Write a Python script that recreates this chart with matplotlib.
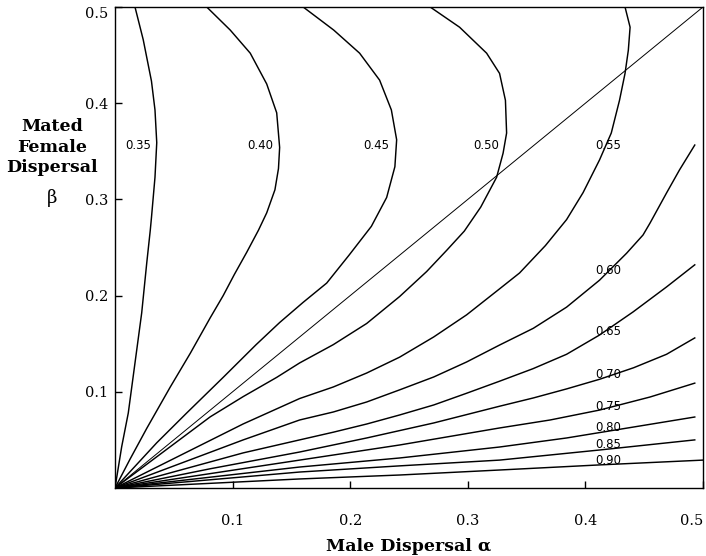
import matplotlib
matplotlib.use("Agg")
import matplotlib.pyplot as plt

# contour levels and their traced points (male dispersal alpha, female dispersal beta)
levels = ["0.35", "0.40", "0.45", "0.50", "0.55", "0.60", "0.65", "0.70", "0.75", "0.80", "0.85", "0.90"]

x_035 = [0.017, 0.024, 0.031, 0.034, 0.0355, 0.034, 0.031, 0.030, 0.027, 0.0227, 0.017, 0.0113, 0.0057, 0.0]
y_035 = [0.500, 0.466, 0.423, 0.393, 0.359, 0.323, 0.281, 0.268, 0.234, 0.182, 0.130, 0.078, 0.043, 0.0]

x_040 = [0.078, 0.098, 0.115, 0.129, 0.1375, 0.140, 0.139, 0.136, 0.129, 0.122, 0.112, 0.1015, 0.092, 0.081, 0.064, 0.047, 0.027, 0.0128, 0.0]
y_040 = [0.500, 0.476, 0.452, 0.420, 0.390, 0.354, 0.332, 0.310, 0.286, 0.268, 0.245, 0.222, 0.200, 0.177, 0.140, 0.105, 0.062, 0.030, 0.0]

x_045 = [0.160, 0.186, 0.208, 0.225, 0.235, 0.2395, 0.238, 0.231, 0.218, 0.199, 0.180, 0.160, 0.140, 0.120, 0.092, 0.061, 0.0355, 0.0]
y_045 = [0.500, 0.476, 0.452, 0.424, 0.393, 0.362, 0.334, 0.302, 0.272, 0.242, 0.213, 0.193, 0.172, 0.149, 0.115, 0.078, 0.047, 0.0]

x_050 = [0.268, 0.293, 0.316, 0.327, 0.332, 0.333, 0.330, 0.3245, 0.311, 0.297, 0.282, 0.265, 0.242, 0.214, 0.1856, 0.157, 0.1375, 0.109, 0.081, 0.0]
y_050 = [0.500, 0.479, 0.452, 0.431, 0.403, 0.369, 0.348, 0.323, 0.292, 0.267, 0.247, 0.225, 0.199, 0.171, 0.149, 0.130, 0.115, 0.095, 0.074, 0.0]

x_055 = [0.4337, 0.438, 0.4365, 0.4337, 0.429, 0.422, 0.412, 0.398, 0.384, 0.366, 0.344, 0.327, 0.299, 0.271, 0.242, 0.214, 0.1856, 0.157, 0.109, 0.0]
y_055 = [0.500, 0.479, 0.455, 0.431, 0.403, 0.369, 0.341, 0.307, 0.279, 0.252, 0.2235, 0.207, 0.180, 0.157, 0.136, 0.1195, 0.105, 0.0930, 0.0666, 0.0]

x_060 = [0.493, 0.480, 0.469, 0.455, 0.449, 0.435, 0.412, 0.384, 0.3557, 0.327, 0.299, 0.271, 0.242, 0.214, 0.1856, 0.157, 0.109, 0.0]
y_060 = [0.3565, 0.3306, 0.3067, 0.2755, 0.263, 0.244, 0.216, 0.188, 0.166, 0.1486, 0.131, 0.1154, 0.102, 0.0894, 0.079, 0.0707, 0.050, 0.0]

x_065 = [0.493, 0.469, 0.4405, 0.412, 0.384, 0.3554, 0.327, 0.299, 0.271, 0.242, 0.214, 0.1856, 0.157, 0.109, 0.0]
y_065 = [0.232, 0.209, 0.183, 0.159, 0.139, 0.124, 0.111, 0.0985, 0.0863, 0.0759, 0.0665, 0.058, 0.050, 0.0365, 0.0]

x_070 = [0.493, 0.469, 0.441, 0.412, 0.384, 0.3557, 0.327, 0.271, 0.214, 0.157, 0.081, 0.0]
y_070 = [0.156, 0.139, 0.125, 0.113, 0.103, 0.0936, 0.085, 0.0676, 0.052, 0.0374, 0.020, 0.0]

x_075 = [0.493, 0.455, 0.412, 0.370, 0.327, 0.242, 0.157, 0.0]
y_075 = [0.109, 0.0946, 0.081, 0.0707, 0.0624, 0.0447, 0.029, 0.0]

x_080 = [0.493, 0.441, 0.384, 0.327, 0.242, 0.157, 0.0]
y_080 = [0.0738, 0.0634, 0.052, 0.0426, 0.0312, 0.0218, 0.0]

x_085 = [0.493, 0.412, 0.327, 0.242, 0.157, 0.0]
y_085 = [0.050, 0.0395, 0.029, 0.023, 0.0166, 0.0]

x_090 = [0.500, 0.412, 0.327, 0.242, 0.157, 0.0]
y_090 = [0.029, 0.024, 0.0187, 0.0135, 0.0094, 0.0]

diag = [0.0, 0.5]
ticks = [0.1, 0.2, 0.3, 0.4, 0.5]

curves_x = [x_035, x_040, x_045, x_050, x_055, x_060, x_065, x_070, x_075, x_080, x_085, x_090]
curves_y = [y_035, y_040, y_045, y_050, y_055, y_060, y_065, y_070, y_075, y_080, y_085, y_090]

# where the contour labels sit (layout, not data)
label_pos = [(0.0196, 0.3565), (0.1233, 0.3565), (0.2225, 0.3565), (0.316, 0.3565), (0.4197, 0.3565),
             (0.4197, 0.2266), (0.4197, 0.1622), (0.4197, 0.1185), (0.4197, 0.0852),
             (0.4197, 0.0624), (0.4197, 0.0447), (0.4197, 0.0291)]

fig = plt.figure(figsize=(7.06, 5.56), dpi=100)
ax = fig.add_axes([115 / 706, 68 / 556, 588 / 706, 481 / 556])

for cx, cy in zip(curves_x, curves_y):
    ax.plot(cx, cy, color="black", lw=1.05, solid_joinstyle="round")
ax.plot(diag, diag, color="black", lw=0.7)

for lev, (lx, ly) in zip(levels, label_pos):
    ax.text(lx, ly, lev, fontsize=8.5, family="DejaVu Sans", ha="center", va="center")

ax.set_xlim(0, 0.5)
ax.set_ylim(0, 0.5)
ax.set_xticks(ticks)
ax.set_yticks(ticks)
ax.set_xticklabels([f"{t:.1f}" for t in ticks], family="DejaVu Serif", fontsize=10.5)
ax.set_yticklabels([f"{t:.1f}" for t in ticks], family="DejaVu Serif", fontsize=10.5)
ax.get_xticklabels()[-1].set_ha("right")
ax.get_yticklabels()[-1].set_va("top")
ax.tick_params(direction="in", length=5, width=1)
ax.tick_params(axis="x", pad=19)
ax.tick_params(axis="y", pad=5)
for s in ax.spines.values():
    s.set_linewidth(1.0)

ax.set_xlabel("Male Dispersal α", family="DejaVu Serif", fontweight="bold", fontsize=12.5, labelpad=7)
fig.text(52 / 706, 1 - 147 / 556, "Mated\nFemale\nDispersal", family="DejaVu Serif", fontweight="bold",
         fontsize=12.5, ha="center", va="center", linespacing=1.3)
fig.text(52 / 706, 1 - 198 / 556, "β", family="DejaVu Serif", fontsize=13, ha="center", va="center")

fig.savefig("out.png", dpi=100)
plt.close(fig)
